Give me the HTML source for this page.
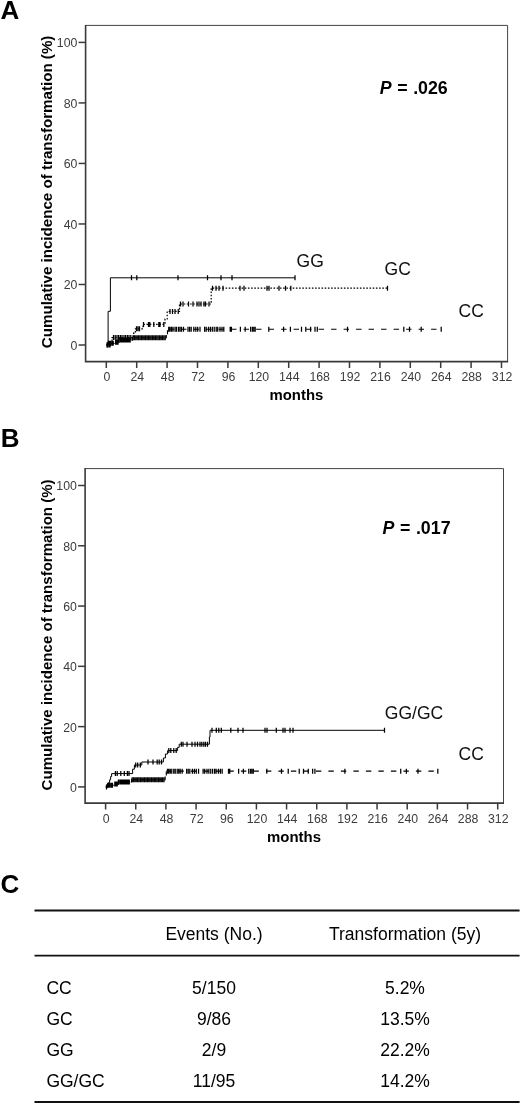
<!DOCTYPE html>
<html><head><meta charset="utf-8"><title>Figure</title>
<style>
html,body{margin:0;padding:0;background:#fff}
body{width:520px;height:1104px;overflow:hidden;font-family:"Liberation Sans",sans-serif}
svg{display:block;filter:grayscale(1) blur(0.35px)}
text{font-family:"Liberation Sans",sans-serif}
.tk{font-size:12.3px;fill:#3c3c3c}
.ttl{font-size:15px;font-weight:bold;fill:#000}
.lab{font-size:17.5px;fill:#111}
.pv{font-size:17.8px;font-weight:bold;fill:#000;word-spacing:0.6px}
.pn{font-size:26px;font-weight:bold;fill:#000}
.tb{font-size:17.5px;fill:#000}
</style></head>
<body>
<svg width="520" height="1104" viewBox="0 0 520 1104">
<rect width="520" height="1104" fill="#fff"/>
<text x="0.5" y="18.5" class="pn">A</text>
<text x="0.7" y="446.8" class="pn">B</text>
<text x="0.5" y="893.3" class="pn">C</text>
<g id="chartA">
<path d="M85.6 25.4 H507.6 V361.6" fill="none" stroke="#444" stroke-width="1"/>
<path d="M85.6 24.9 V361.6 H508.1" fill="none" stroke="#3a3a3a" stroke-width="1.6"/>
<path d="M78.60 345.00 H85.6" stroke="#3a3a3a" stroke-width="1.5"/>
<text x="77.40" y="349.90" text-anchor="end" class="tk">0</text>
<path d="M78.60 284.48 H85.6" stroke="#3a3a3a" stroke-width="1.5"/>
<text x="77.40" y="289.38" text-anchor="end" class="tk">20</text>
<path d="M78.60 223.96 H85.6" stroke="#3a3a3a" stroke-width="1.5"/>
<text x="77.40" y="228.86" text-anchor="end" class="tk">40</text>
<path d="M78.60 163.44 H85.6" stroke="#3a3a3a" stroke-width="1.5"/>
<text x="77.40" y="168.34" text-anchor="end" class="tk">60</text>
<path d="M78.60 102.92 H85.6" stroke="#3a3a3a" stroke-width="1.5"/>
<text x="77.40" y="107.82" text-anchor="end" class="tk">80</text>
<path d="M78.60 42.40 H85.6" stroke="#3a3a3a" stroke-width="1.5"/>
<text x="77.40" y="47.30" text-anchor="end" class="tk">100</text>
<path d="M106.30 361.6 V368.00" stroke="#3a3a3a" stroke-width="1.5"/>
<text x="106.90" y="380.8" text-anchor="middle" class="tk">0</text>
<path d="M136.70 361.6 V368.00" stroke="#3a3a3a" stroke-width="1.5"/>
<text x="137.30" y="380.8" text-anchor="middle" class="tk">24</text>
<path d="M167.10 361.6 V368.00" stroke="#3a3a3a" stroke-width="1.5"/>
<text x="167.70" y="380.8" text-anchor="middle" class="tk">48</text>
<path d="M197.50 361.6 V368.00" stroke="#3a3a3a" stroke-width="1.5"/>
<text x="198.10" y="380.8" text-anchor="middle" class="tk">72</text>
<path d="M227.90 361.6 V368.00" stroke="#3a3a3a" stroke-width="1.5"/>
<text x="228.50" y="380.8" text-anchor="middle" class="tk">96</text>
<path d="M258.30 361.6 V368.00" stroke="#3a3a3a" stroke-width="1.5"/>
<text x="258.90" y="380.8" text-anchor="middle" class="tk">120</text>
<path d="M288.70 361.6 V368.00" stroke="#3a3a3a" stroke-width="1.5"/>
<text x="289.30" y="380.8" text-anchor="middle" class="tk">144</text>
<path d="M319.10 361.6 V368.00" stroke="#3a3a3a" stroke-width="1.5"/>
<text x="319.70" y="380.8" text-anchor="middle" class="tk">168</text>
<path d="M349.50 361.6 V368.00" stroke="#3a3a3a" stroke-width="1.5"/>
<text x="350.10" y="380.8" text-anchor="middle" class="tk">192</text>
<path d="M379.90 361.6 V368.00" stroke="#3a3a3a" stroke-width="1.5"/>
<text x="380.50" y="380.8" text-anchor="middle" class="tk">216</text>
<path d="M410.30 361.6 V368.00" stroke="#3a3a3a" stroke-width="1.5"/>
<text x="410.90" y="380.8" text-anchor="middle" class="tk">240</text>
<path d="M440.70 361.6 V368.00" stroke="#3a3a3a" stroke-width="1.5"/>
<text x="441.30" y="380.8" text-anchor="middle" class="tk">264</text>
<path d="M471.10 361.6 V368.00" stroke="#3a3a3a" stroke-width="1.5"/>
<text x="471.70" y="380.8" text-anchor="middle" class="tk">288</text>
<path d="M501.50 361.6 V368.00" stroke="#3a3a3a" stroke-width="1.5"/>
<text x="502.10" y="380.8" text-anchor="middle" class="tk">312</text>
<text transform="translate(51.6 348.2) rotate(-90)" class="ttl" textLength="312.6" lengthAdjust="spacingAndGlyphs">Cumulative incidence of transformation (%)</text>
<text x="269.5" y="400.0" class="ttl" textLength="53.8" lengthAdjust="spacingAndGlyphs">months</text>
<path d="M106.30 345.00 H107.50 V343.30 H114.60 V342.20 H119.20 V340.10 H132.50 V337.70 H166.30 V334.00 H167.50 V329.20" stroke="#000" stroke-width="1.15" fill="none" stroke-dasharray="4 2"/><path d="M167.50 329.20 H441.20" stroke="#000" stroke-width="1.15" fill="none" stroke-dasharray="5.4 7.1" stroke-dashoffset="-1.1"/>
<path d="M107.20 342.50V347.50M108.40 340.80V345.80M109.60 340.80V345.80M110.80 340.80V345.80M112.20 340.80V345.80M113.20 340.80V345.80M115.60 339.70V344.70M116.80 339.70V344.70M118.00 339.70V344.70M119.20 337.60V342.60M120.60 337.60V342.60M121.80 337.60V342.60M123.00 337.60V342.60M124.20 337.60V342.60M125.40 337.60V342.60M126.60 337.60V342.60M127.80 337.60V342.60M129.00 337.60V342.60M130.20 337.60V342.60M133.00 335.20V340.20M134.40 335.20V340.20M135.80 335.20V340.20M137.20 335.20V340.20M138.60 335.20V340.20M140.00 335.20V340.20M141.40 335.20V340.20M142.80 335.20V340.20M144.20 335.20V340.20M145.60 335.20V340.20M147.00 335.20V340.20M148.40 335.20V340.20M149.80 335.20V340.20M151.20 335.20V340.20M152.60 335.20V340.20M154.00 335.20V340.20M155.40 335.20V340.20M156.80 335.20V340.20M158.20 335.20V340.20M159.60 335.20V340.20M161.00 335.20V340.20M162.40 335.20V340.20M163.80 335.20V340.20M165.20 335.20V340.20M168.70 326.70V331.70M170.00 326.70V331.70M171.50 326.70V331.70M173.00 326.70V331.70M175.00 326.70V331.70M176.50 326.70V331.70M178.50 326.70V331.70M180.00 326.70V331.70M181.50 326.70V331.70M183.50 326.70V331.70M188.00 326.70V331.70M189.60 326.70V331.70M191.20 326.70V331.70M193.80 326.70V331.70M195.80 326.70V331.70M197.70 326.70V331.70M200.00 326.70V331.70M204.60 326.70V331.70M206.20 326.70V331.70M208.50 326.70V331.70M210.40 326.70V331.70M212.30 326.70V331.70M214.20 326.70V331.70M216.20 326.70V331.70M217.70 326.70V331.70M220.00 326.70V331.70M222.00 326.70V331.70M223.80 326.70V331.70M230.20 326.70V331.70M231.40 326.70V331.70M240.40 326.70V331.70M245.20 326.70V331.70M250.60 326.70V331.70M252.40 326.70V331.70M253.80 326.70V331.70M255.20 326.70V331.70M268.80 326.70V331.70M283.60 326.70V331.70M290.40 326.70V331.70M301.50 326.70V331.70M305.80 326.70V331.70M310.60 326.70V331.70M315.00 326.70V331.70M317.30 326.70V331.70M347.50 326.70V331.70M403.80 326.70V331.70M409.50 326.70V331.70M421.20 326.70V331.70M441.20 326.70V331.70" stroke="#000" stroke-width="1.25" fill="none"/>
<path d="M106.30 345.00 H110.70 V341.40 H112.00 V337.60 H133.60 V333.20 H135.40 V328.80 H143.00 V324.40 H165.00 V319.00 H167.20 V311.40 H179.50 V304.00 H211.20 V288.20 H387.50" stroke="#000" stroke-width="1.2" fill="none" stroke-dasharray="1.6 1.6"/>
<path d="M107.30 342.50V347.50M108.80 342.50V347.50M110.10 342.50V347.50M113.50 335.10V340.10M115.20 335.10V340.10M117.00 335.10V340.10M118.60 335.10V340.10M120.40 335.10V340.10M122.00 335.10V340.10M124.00 335.10V340.10M125.60 335.10V340.10M127.40 335.10V340.10M129.00 335.10V340.10M130.80 335.10V340.10M136.50 326.30V331.30M138.00 326.30V331.30M139.50 326.30V331.30M143.50 321.90V326.90M148.50 321.90V326.90M149.80 321.90V326.90M153.80 321.90V326.90M158.80 321.90V326.90M160.00 321.90V326.90M163.80 321.90V326.90M170.00 308.90V313.90M172.50 308.90V313.90M175.00 308.90V313.90M178.20 308.90V313.90M180.50 301.50V306.50M183.00 301.50V306.50M188.50 301.50V306.50M193.00 301.50V306.50M197.00 301.50V306.50M199.00 301.50V306.50M201.00 301.50V306.50M204.00 301.50V306.50M205.50 301.50V306.50M209.00 301.50V306.50M212.50 285.70V290.70M216.00 285.70V290.70M219.00 285.70V290.70M223.00 285.70V290.70M240.00 285.70V290.70M244.00 285.70V290.70M267.00 285.70V290.70M269.00 285.70V290.70M279.00 285.70V290.70M285.50 285.70V290.70M290.80 285.70V290.70M387.50 285.70V290.70" stroke="#000" stroke-width="1.25" fill="none"/>
<path d="M108.10 343.50 H108.10 V311.30 H110.40 V277.80 H295.00" stroke="#000" stroke-width="1.0" fill="none"/>
<path d="M131.50 275.30V280.30M136.80 275.30V280.30M178.00 275.30V280.30M207.50 275.30V280.30M221.00 275.30V280.30M232.00 275.30V280.30M295.00 275.30V280.30" stroke="#000" stroke-width="1.25" fill="none"/>
<text x="296.6" y="267.3" class="lab">GG</text>
<text x="384.6" y="274.5" class="lab">GC</text>
<text x="458.6" y="317" class="lab">CC</text>
<text x="379.8" y="94.2" class="pv"><tspan font-style="italic">P</tspan> = .026</text>
</g>
<g id="chartB">
<path d="M85.1 468.6 H503.5 V803.1" fill="none" stroke="#444" stroke-width="1"/>
<path d="M85.1 468.1 V803.1 H504.0" fill="none" stroke="#3a3a3a" stroke-width="1.6"/>
<path d="M78.10 786.90 H85.1" stroke="#3a3a3a" stroke-width="1.5"/>
<text x="76.90" y="791.80" text-anchor="end" class="tk">0</text>
<path d="M78.10 726.62 H85.1" stroke="#3a3a3a" stroke-width="1.5"/>
<text x="76.90" y="731.52" text-anchor="end" class="tk">20</text>
<path d="M78.10 666.34 H85.1" stroke="#3a3a3a" stroke-width="1.5"/>
<text x="76.90" y="671.24" text-anchor="end" class="tk">40</text>
<path d="M78.10 606.06 H85.1" stroke="#3a3a3a" stroke-width="1.5"/>
<text x="76.90" y="610.96" text-anchor="end" class="tk">60</text>
<path d="M78.10 545.78 H85.1" stroke="#3a3a3a" stroke-width="1.5"/>
<text x="76.90" y="550.68" text-anchor="end" class="tk">80</text>
<path d="M78.10 485.50 H85.1" stroke="#3a3a3a" stroke-width="1.5"/>
<text x="76.90" y="490.40" text-anchor="end" class="tk">100</text>
<path d="M105.60 803.1 V809.50" stroke="#3a3a3a" stroke-width="1.5"/>
<text x="106.20" y="823.0" text-anchor="middle" class="tk">0</text>
<path d="M135.76 803.1 V809.50" stroke="#3a3a3a" stroke-width="1.5"/>
<text x="136.36" y="823.0" text-anchor="middle" class="tk">24</text>
<path d="M165.92 803.1 V809.50" stroke="#3a3a3a" stroke-width="1.5"/>
<text x="166.52" y="823.0" text-anchor="middle" class="tk">48</text>
<path d="M196.08 803.1 V809.50" stroke="#3a3a3a" stroke-width="1.5"/>
<text x="196.68" y="823.0" text-anchor="middle" class="tk">72</text>
<path d="M226.25 803.1 V809.50" stroke="#3a3a3a" stroke-width="1.5"/>
<text x="226.85" y="823.0" text-anchor="middle" class="tk">96</text>
<path d="M256.41 803.1 V809.50" stroke="#3a3a3a" stroke-width="1.5"/>
<text x="257.01" y="823.0" text-anchor="middle" class="tk">120</text>
<path d="M286.57 803.1 V809.50" stroke="#3a3a3a" stroke-width="1.5"/>
<text x="287.17" y="823.0" text-anchor="middle" class="tk">144</text>
<path d="M316.73 803.1 V809.50" stroke="#3a3a3a" stroke-width="1.5"/>
<text x="317.33" y="823.0" text-anchor="middle" class="tk">168</text>
<path d="M346.89 803.1 V809.50" stroke="#3a3a3a" stroke-width="1.5"/>
<text x="347.49" y="823.0" text-anchor="middle" class="tk">192</text>
<path d="M377.05 803.1 V809.50" stroke="#3a3a3a" stroke-width="1.5"/>
<text x="377.65" y="823.0" text-anchor="middle" class="tk">216</text>
<path d="M407.22 803.1 V809.50" stroke="#3a3a3a" stroke-width="1.5"/>
<text x="407.82" y="823.0" text-anchor="middle" class="tk">240</text>
<path d="M437.38 803.1 V809.50" stroke="#3a3a3a" stroke-width="1.5"/>
<text x="437.98" y="823.0" text-anchor="middle" class="tk">264</text>
<path d="M467.54 803.1 V809.50" stroke="#3a3a3a" stroke-width="1.5"/>
<text x="468.14" y="823.0" text-anchor="middle" class="tk">288</text>
<path d="M497.70 803.1 V809.50" stroke="#3a3a3a" stroke-width="1.5"/>
<text x="498.30" y="823.0" text-anchor="middle" class="tk">312</text>
<text transform="translate(51.6 790.4) rotate(-90)" class="ttl" textLength="311.0" lengthAdjust="spacingAndGlyphs">Cumulative incidence of transformation (%)</text>
<text x="267.0" y="842.2" class="ttl" textLength="54.0" lengthAdjust="spacingAndGlyphs">months</text>
<path d="M105.60 786.90 H106.79 V785.21 H113.83 V784.11 H118.40 V782.02 H131.59 V779.63 H165.12 V775.94 H166.31 V771.16" stroke="#000" stroke-width="1.15" fill="none" stroke-dasharray="4 2"/><path d="M166.31 771.16 H437.82" stroke="#000" stroke-width="1.15" fill="none" stroke-dasharray="5.4 7.1" stroke-dashoffset="0.4"/>
<path d="M106.49 784.40V789.40M107.68 782.71V787.71M108.87 782.71V787.71M110.06 782.71V787.71M111.45 782.71V787.71M112.44 782.71V787.71M114.83 781.61V786.61M116.02 781.61V786.61M117.21 781.61V786.61M118.40 779.52V784.52M119.79 779.52V784.52M120.98 779.52V784.52M122.17 779.52V784.52M123.36 779.52V784.52M124.55 779.52V784.52M125.74 779.52V784.52M126.93 779.52V784.52M128.12 779.52V784.52M129.31 779.52V784.52M132.09 777.13V782.13M133.48 777.13V782.13M134.86 777.13V782.13M136.25 777.13V782.13M137.64 777.13V782.13M139.03 777.13V782.13M140.42 777.13V782.13M141.81 777.13V782.13M143.20 777.13V782.13M144.59 777.13V782.13M145.97 777.13V782.13M147.36 777.13V782.13M148.75 777.13V782.13M150.14 777.13V782.13M151.53 777.13V782.13M152.92 777.13V782.13M154.31 777.13V782.13M155.70 777.13V782.13M157.08 777.13V782.13M158.47 777.13V782.13M159.86 777.13V782.13M161.25 777.13V782.13M162.64 777.13V782.13M164.03 777.13V782.13M167.50 768.66V773.66M168.79 768.66V773.66M170.28 768.66V773.66M171.77 768.66V773.66M173.75 768.66V773.66M175.24 768.66V773.66M177.22 768.66V773.66M178.71 768.66V773.66M180.20 768.66V773.66M182.18 768.66V773.66M186.65 768.66V773.66M188.23 768.66V773.66M189.82 768.66V773.66M192.40 768.66V773.66M194.38 768.66V773.66M196.27 768.66V773.66M198.55 768.66V773.66M203.11 768.66V773.66M204.70 768.66V773.66M206.98 768.66V773.66M208.87 768.66V773.66M210.75 768.66V773.66M212.64 768.66V773.66M214.62 768.66V773.66M216.11 768.66V773.66M218.39 768.66V773.66M220.37 768.66V773.66M222.16 768.66V773.66M228.51 768.66V773.66M229.70 768.66V773.66M238.63 768.66V773.66M243.39 768.66V773.66M248.75 768.66V773.66M250.53 768.66V773.66M251.92 768.66V773.66M253.31 768.66V773.66M266.80 768.66V773.66M281.48 768.66V773.66M288.23 768.66V773.66M299.24 768.66V773.66M303.50 768.66V773.66M308.27 768.66V773.66M312.63 768.66V773.66M314.91 768.66V773.66M344.87 768.66V773.66M400.72 768.66V773.66M406.37 768.66V773.66M417.98 768.66V773.66M437.82 768.66V773.66" stroke="#000" stroke-width="1.25" fill="none"/>
<path d="M106.30 788.00 H107.20 V785.50 H108.40 V782.80 H109.60 V779.80 H110.60 V776.60 H111.60 V773.60 H132.60 V769.20 H134.40 V765.00 H141.80 V762.00 H163.40 V758.00 H165.40 V754.00 H167.60 V750.60 H177.60 V747.40 H179.20 V744.20 H209.40 V737.00 H210.00 V730.30 H384.50" stroke="#000" stroke-width="1.0" fill="none"/>
<path d="M115.40 771.10V776.10M117.20 771.10V776.10M120.80 771.10V776.10M124.30 771.10V776.10M127.40 771.10V776.10M129.00 771.10V776.10M135.70 762.50V767.50M137.70 762.50V767.50M140.30 762.50V767.50M148.00 759.50V764.50M153.00 759.50V764.50M157.20 759.50V764.50M159.20 759.50V764.50M161.50 759.50V764.50M168.80 748.10V753.10M170.80 748.10V753.10M173.80 748.10V753.10M176.20 748.10V753.10M181.30 741.70V746.70M183.00 741.70V746.70M187.00 741.70V746.70M192.00 741.70V746.70M195.00 741.70V746.70M197.50 741.70V746.70M200.00 741.70V746.70M201.80 741.70V746.70M203.80 741.70V746.70M205.50 741.70V746.70M207.50 741.70V746.70M212.00 727.80V732.80M216.30 727.80V732.80M218.80 727.80V732.80M221.30 727.80V732.80M230.80 727.80V732.80M238.00 727.80V732.80M243.00 727.80V732.80M265.00 727.80V732.80M267.00 727.80V732.80M276.30 727.80V732.80M283.00 727.80V732.80M285.00 727.80V732.80M290.00 727.80V732.80M293.00 727.80V732.80M384.50 727.80V732.80" stroke="#000" stroke-width="1.25" fill="none"/>
<text x="384.8" y="719.2" class="lab">GG/GC</text>
<text x="458.6" y="760" class="lab">CC</text>
<text x="382.6" y="533.5" class="pv"><tspan font-style="italic">P</tspan> = .017</text>
</g>
<g id="tableC">
<path d="M34.5 910.5 H519.6" stroke="#111" stroke-width="1.8"/>
<path d="M34.5 955.7 H519.6" stroke="#111" stroke-width="1.8"/>
<path d="M34.5 1102.0 H519.6" stroke="#111" stroke-width="1.8"/>
<text x="214" y="939.6" text-anchor="middle" class="tb">Events (No.)</text>
<text x="405" y="939.6" text-anchor="middle" class="tb">Transformation (5y)</text>
<text x="46.4" y="993.5" class="tb">CC</text>
<text x="214" y="993.5" text-anchor="middle" class="tb">5/150</text>
<text x="405" y="993.5" text-anchor="middle" class="tb">5.2%</text>
<text x="46.4" y="1024.5" class="tb">GC</text>
<text x="214" y="1024.5" text-anchor="middle" class="tb">9/86</text>
<text x="405" y="1024.5" text-anchor="middle" class="tb">13.5%</text>
<text x="46.4" y="1055.5" class="tb">GG</text>
<text x="214" y="1055.5" text-anchor="middle" class="tb">2/9</text>
<text x="405" y="1055.5" text-anchor="middle" class="tb">22.2%</text>
<text x="46.4" y="1086.5" class="tb">GG/GC</text>
<text x="214" y="1086.5" text-anchor="middle" class="tb">11/95</text>
<text x="405" y="1086.5" text-anchor="middle" class="tb">14.2%</text>
</g>
</svg>
</body></html>
